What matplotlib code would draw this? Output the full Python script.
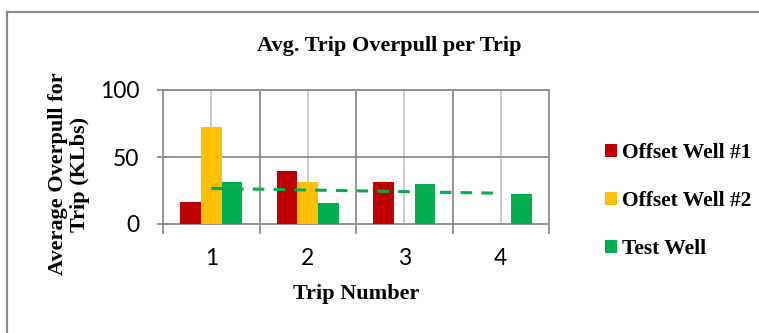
import matplotlib
matplotlib.use("Agg")
import matplotlib.pyplot as plt
from matplotlib.lines import Line2D
import numpy as np

# average overpull per trip (KLbs)
trips = [1, 2, 3, 4]
offset_well_1 = [16.5, 39.5, 31.5, 0]
offset_well_2 = [72.5, 31, 0, 0]
test_well = [31.2, 15.7, 29.7, 22.5]
series_names = ["Offset Well #1", "Offset Well #2", "Test Well"]

red = "#C00000"
yellow = "#FFC000"
green = "#00B050"
grid_dark = "#8C8C8C"
grid_light = "#C8C8C8"
serif = ["Liberation Serif", "DejaVu Serif"]
sans = ["Lato", "DejaVu Sans"]

fig = plt.figure(figsize=(7.59, 3.33), dpi=100)
ax = fig.add_axes([163 / 759, 1 - 224 / 333, 386 / 759, 134 / 333])

x = np.array(trips)
w = 0.215
ax.bar(x - w, offset_well_1, w, color=red, label=series_names[0], zorder=3)
ax.bar(x, offset_well_2, w, color=yellow, label=series_names[1], zorder=3)
ax.bar(x + w, test_well, w, color=green, label=series_names[2], zorder=3)

# linear trend of the test well
k, b = np.polyfit(x, test_well, 1)
ax.plot(x[[0, -1]], k * x[[0, -1]] + b, color=green, lw=2.2,
        dashes=(3.8, 3.0), zorder=4)

ax.set_xlim(0.5, 4.5)
ax.set_ylim(0, 100)
ax.set_yticks([0, 50, 100])
ax.set_xticks([0.5, 1.5, 2.5, 3.5, 4.5])
ax.set_xticklabels([])
ax.set_xticks(trips, minor=True)
ax.set_xticklabels([str(t) for t in trips], minor=True)

for t in [1.5, 2.5, 3.5]:
    ax.axvline(t, color=grid_dark, lw=1.3, zorder=1)
for t in trips:
    ax.axvline(t, color=grid_light, lw=1.3, zorder=1)
for v in [50, 100]:
    ax.axhline(v, color=grid_dark, lw=1.3, zorder=1)

for s in ax.spines.values():
    s.set_color(grid_dark)
    s.set_linewidth(1.3)

ax.tick_params(axis="y", which="major", direction="inout", length=8, width=1.3,
               color=grid_dark, pad=13, labelsize=16.5)
ax.tick_params(axis="x", which="major", direction="out", length=7, width=1.3,
               color=grid_dark)
ax.tick_params(axis="x", which="minor", length=0, pad=17, labelsize=16.5)
for lab in ax.get_yticklabels() + ax.get_xticklabels(minor=True):
    lab.set_family(sans)

fig.text(389 / 759, 1 - 46 / 333, "Avg. Trip Overpull per Trip", ha="center",
         va="center", fontsize=16, fontweight="bold", family=serif)
fig.text(356 / 759, 1 - 294 / 333, "Trip Number", ha="center", va="center",
         fontsize=16, fontweight="bold", family=serif)
fig.text(69 / 759, 1 - 174 / 333, "Average Overpull for\nTrip (KLbs)",
         ha="center", va="center", rotation=90, fontsize=16,
         fontweight="bold", family=serif, linespacing=1.1)

leg = fig.legend(loc="upper left", bbox_to_anchor=(605 / 759, 1 - 143 / 333),
                 frameon=False, handlelength=0.55, handleheight=0.55,
                 handletextpad=0.25, labelspacing=1.31, borderpad=0,
                 borderaxespad=0,
                 prop={"family": serif, "weight": "bold", "size": 15.5})

# outer frame around the chart
fig.add_artist(Line2D([6.5 / 759, 6.5 / 759], [0, 1 - 11.5 / 333],
                      color="#8A8A8A", lw=1.6))
fig.add_artist(Line2D([6.5 / 759, 1], [1 - 11.5 / 333, 1 - 11.5 / 333],
                      color="#8A8A8A", lw=1.6))

fig.savefig("out.png", dpi=100)
